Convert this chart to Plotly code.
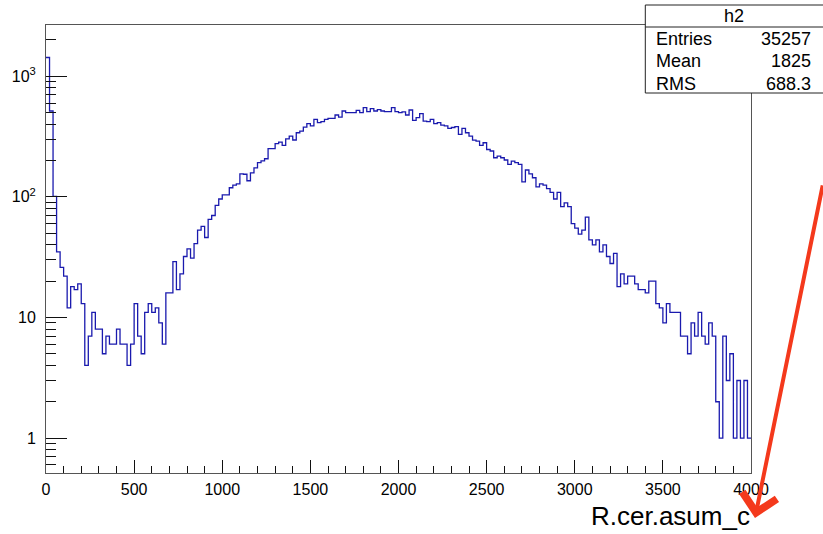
import numpy as np
import plotly.graph_objects as go

# ---- data (200 bins of width 20 from 0 to 4000) ----
x_min = 0
x_max = 4000
bin_width = 20
counts = [
    1430, 515, 101, 35, 26, 22, 12, 18, 17, 19,
    13, 4, 7, 11, 8, 8, 5, 7, 6, 6,
    8, 6, 6, 4, 6, 13, 7, 5, 11, 13,
    11, 12, 9, 6, 16, 16, 29, 17, 23, 32,
    37, 31, 41, 53, 57, 46, 65, 70, 85, 96,
    104, 104, 119, 125, 128, 155, 154, 136, 158, 174,
    192, 199, 207, 251, 251, 276, 284, 267, 303, 319,
    296, 340, 351, 379, 404, 387, 439, 412, 420, 439,
    448, 448, 477, 459, 515, 499, 499, 499, 522, 499,
    549, 508, 538, 515, 528, 515, 508, 508, 549, 508,
    499, 506, 477, 525, 431, 453, 490, 425, 420, 439,
    404, 412, 394, 387, 370, 376, 382, 330, 370, 340,
    319, 295, 290, 267, 281, 247, 240, 211, 218, 211,
    202, 186, 198, 192, 186, 133, 167, 155, 144, 121,
    128, 125, 117, 109, 96, 109, 83, 89, 83, 60,
    55, 49, 53, 68, 44, 40, 44, 35, 40, 32,
    28, 34, 18, 23, 19, 22, 22, 19, 17, 17,
    16, 20, 20, 13, 12, 9, 13, 11, 11, 11,
    7, 7, 5, 9, 7, 11, 7, 6, 9, 7,
    2, 1, 7, 3, 5, 1, 3, 1, 3, 1,
]
hist_name = "h2"
stat_labels = ["Entries", "Mean", "RMS"]
stat_values = ["35257", "1825", "688.3"]
x_title = "R.cer.asum_c"
y_tickvals = [1, 10, 100, 1000]
y_ticktext = ["1", "10", "10<sup>2</sup>", "10<sup>3</sup>"]

# bin edges and step-line points
edges = np.arange(x_min, x_max + bin_width, bin_width)
ys = counts + [counts[-1]]

# minor ticks for the log axis (2..9 per decade)
y_minor = [m * 10.0 ** d for d in range(-1, 4) for m in range(2, 10)]
y_minor = [v for v in y_minor if 0.5 <= v <= 2700 and v not in (1, 10, 100, 1000)]

FONT = "Liberation Sans, Arial, Helvetica, sans-serif"

fig = go.Figure()
fig.add_trace(go.Scatter(
    x=edges, y=ys, mode="lines",
    line=dict(shape="hv", color="#1a1aae", width=1.3),
    hoverinfo="skip", showlegend=False,
))

W, H = 823, 534
L, R, T, B = 44, 72, 25, 61
pw, ph = W - L - R, H - T - B


def px(xp):
    return (xp - L) / pw


def py(yp):
    return (H - B - yp) / ph


fig.update_layout(
    width=W, height=H,
    margin=dict(l=L, r=R, t=T, b=B, pad=0),
    paper_bgcolor="white", plot_bgcolor="white",
    font=dict(family=FONT, size=16, color="black"),
    showlegend=False,
    xaxis=dict(
        range=[x_min, x_max], tick0=0, dtick=500,
        ticks="inside", ticklen=13, tickwidth=1, tickcolor="#111",
        minor=dict(dtick=100, ticks="inside", ticklen=7, tickwidth=1, tickcolor="#111"),
        showline=True, mirror=True, linecolor="#555", linewidth=1,
        showgrid=False, zeroline=False,
        tickfont=dict(family=FONT, size=16, color="black"),
        ticklabelstandoff=2,
    ),
    yaxis=dict(
        type="log", range=[-0.29, 3.425],
        tickmode="array", tickvals=y_tickvals, ticktext=y_ticktext,
        ticks="inside", ticklen=21, tickwidth=1, tickcolor="#111",
        minor=dict(tickmode="array", tickvals=y_minor, ticks="inside", ticklen=10,
                   tickwidth=1, tickcolor="#111"),
        showline=True, mirror=True, linecolor="#555", linewidth=1,
        showgrid=False, zeroline=False,
        tickfont=dict(family=FONT, size=16, color="black"),
        ticklabelstandoff=6,
    ),
)

# stats box
box_x0, box_x1 = px(645), px(830)
box_y0, box_y1 = py(93), py(5)
fig.add_shape(type="rect", xref="paper", yref="paper",
              x0=box_x0, x1=box_x1, y0=box_y0, y1=box_y1,
              line=dict(color="#222", width=1), fillcolor="white", layer="above")
fig.add_shape(type="line", xref="paper", yref="paper",
              x0=box_x0, x1=box_x1, y0=py(27), y1=py(27),
              line=dict(color="#222", width=1), layer="above")
fig.add_annotation(xref="paper", yref="paper", x=px(734), y=py(16),
                   text=hist_name, showarrow=False, xanchor="center", yanchor="middle",
                   font=dict(family=FONT, size=18, color="black"))
row_y = [39, 61, 84]
for lab, val, yy in zip(stat_labels, stat_values, row_y):
    fig.add_annotation(xref="paper", yref="paper", x=px(654), y=py(yy),
                       text=lab, showarrow=False, xanchor="left", yanchor="middle",
                       font=dict(family=FONT, size=18, color="black"))
    fig.add_annotation(xref="paper", yref="paper", x=px(813), y=py(yy),
                       text=val, showarrow=False, xanchor="right", yanchor="middle",
                       font=dict(family=FONT, size=18, color="black"))

# x-axis title (right aligned, ROOT style)
fig.add_annotation(xref="paper", yref="paper", x=px(752), y=py(516),
                   text=x_title, showarrow=False, xanchor="right", yanchor="middle",
                   font=dict(family=FONT, size=26, color="black"))

# red arrow annotation
fig.add_annotation(xref="paper", yref="paper", x=px(755), y=py(518),
                   text="", showarrow=True, axref="pixel", ayref="pixel",
                   ax=74, ay=-334, arrowhead=4, arrowsize=1.7, arrowwidth=4,
                   arrowcolor="#f4391c", standoff=0, startstandoff=0)

fig.write_html("out.html")
